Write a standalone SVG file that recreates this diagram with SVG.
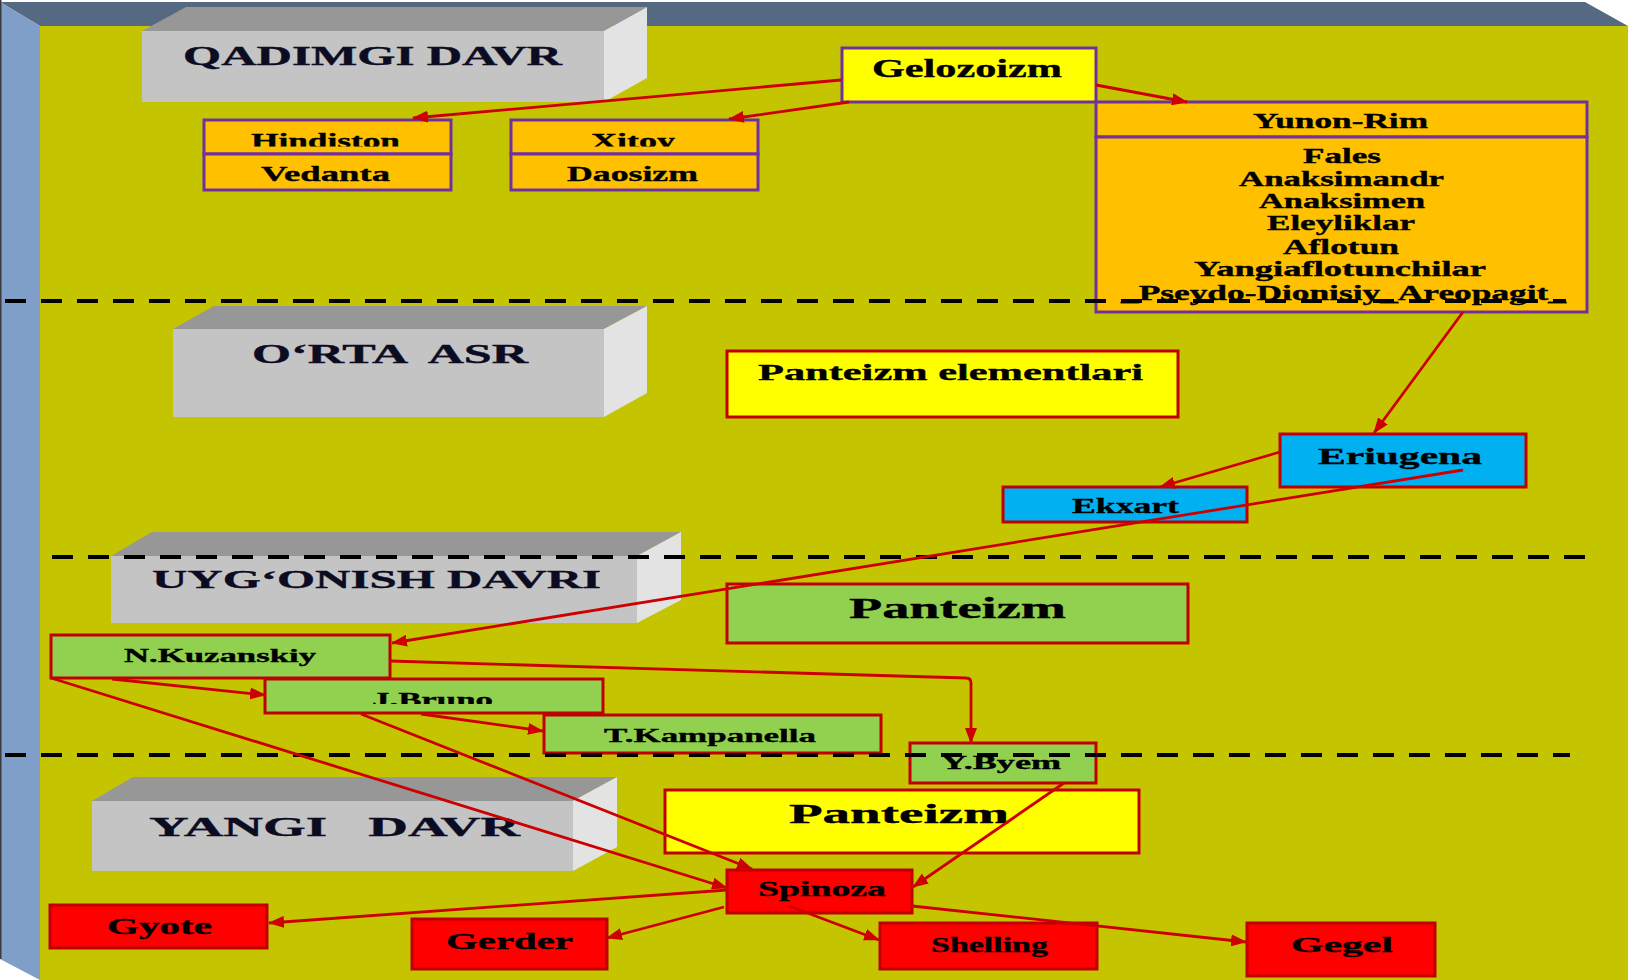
<svg xmlns="http://www.w3.org/2000/svg" width="1633" height="980" viewBox="0 0 1633 980">
<style>
text{font-family:"Liberation Serif","Times New Roman",serif;font-weight:bold;fill:#000;stroke:#000;stroke-width:0.35;text-anchor:middle}
.era{fill:#0b0b22;stroke:#0b0b22}
.ff{fill:#C4C4C4}.ft{fill:#979797}.fr{fill:#E3E3E3}
.po{fill:#FFC000;stroke:#7030A0;stroke-width:3}
.py{fill:#FFFF00;stroke:#7030A0;stroke-width:3}
.ry{fill:#FFFF00;stroke:#C00000;stroke-width:3}
.rb{fill:#00B0F0;stroke:#C00000;stroke-width:3}
.rg{fill:#92D050;stroke:#C00000;stroke-width:3}
.rr{fill:#FF0000;stroke:#C00000;stroke-width:3}
.c{fill:none;stroke:#CC0000;stroke-width:2.8;marker-end:url(#ah)}
.d{stroke:#000;stroke-width:4;stroke-dasharray:21 15}
</style>
<defs>
<marker id="ah" markerUnits="userSpaceOnUse" markerWidth="16" markerHeight="12" refX="15" refY="6" orient="auto">
<path d="M0,0 L16,6 L0,12 z" fill="#CC0000"/>
</marker>
<clipPath id="clipHead"><rect x="200" y="118" width="560" height="28.5"/></clipPath>
<clipPath id="clipBruno"><rect x="265" y="679" width="338" height="25"/></clipPath>
</defs>

<g id="frame">
<rect x="0" y="0" width="1633" height="980" fill="#FFFFFF"/>
<polygon points="0,2 1585,2 1628,26 40,26" fill="#556983"/>
<polygon points="0,2 40,26 40,980 0,959" fill="#7F9FC9"/>
<rect x="0" y="0" width="1.5" height="959" fill="#3a3a3a"/>
<rect x="40" y="26" width="1588" height="954" fill="#C5C400"/>
</g>

<g id="era-qadimgi">
<polygon class="ft" points="142,31 186,7 647,7 604,31"/>
<polygon class="fr" points="604,31 647,7 647,78 604,102"/>
<rect class="ff" x="142" y="31" width="462" height="71"/>
<text class="era" x="372.5" y="65" font-size="27" textLength="379" lengthAdjust="spacingAndGlyphs">QADIMGI DAVR</text>
</g>
<g id="era-orta">
<polygon class="ft" points="173,329 214,306 647,306 604,329"/>
<polygon class="fr" points="604,329 647,306 647,393 604,417"/>
<rect class="ff" x="173" y="329" width="431" height="88"/>
<text class="era" x="390" y="363" font-size="27" textLength="276" lengthAdjust="spacingAndGlyphs" xml:space="preserve">O‘RTA  ASR</text>
</g>
<g id="era-uygonish">
<polygon class="ft" points="111,556 152,532 681,532 637,556"/>
<polygon class="fr" points="637,556 681,532 681,600 637,623"/>
<rect class="ff" x="111" y="556" width="526" height="67"/>
<text class="era" x="376.5" y="588" font-size="26" textLength="449" lengthAdjust="spacingAndGlyphs">UYG‘ONISH DAVRI</text>
</g>
<g id="era-yangi">
<polygon class="ft" points="92,801 133,777 617,777 573,801"/>
<polygon class="fr" points="573,801 617,777 617,847 573,871"/>
<rect class="ff" x="92" y="801" width="481" height="70"/>
<text class="era" x="334.5" y="836" font-size="28" textLength="371" lengthAdjust="spacingAndGlyphs" xml:space="preserve">YANGI   DAVR</text>
</g>

<g id="gelozoizm">
<rect class="py" x="842" y="48" width="254" height="54"/>
<text x="967" y="77" font-size="25" textLength="190" lengthAdjust="spacingAndGlyphs">Gelozoizm</text>
</g>
<g id="hindiston">
<rect class="po" x="204" y="120" width="247" height="34"/>
<rect class="po" x="204" y="154" width="247" height="36"/>
<text x="325.5" y="147.5" font-size="21" textLength="149" lengthAdjust="spacingAndGlyphs" clip-path="url(#clipHead)">Hindiston</text>
<text x="325.5" y="181" font-size="21" textLength="129" lengthAdjust="spacingAndGlyphs">Vedanta</text>
</g>
<g id="xitoy">
<rect class="po" x="511" y="120" width="247" height="34"/>
<rect class="po" x="511" y="154" width="247" height="36"/>
<text x="633" y="147.5" font-size="21" textLength="84" lengthAdjust="spacingAndGlyphs" clip-path="url(#clipHead)">Xitoy</text>
<text x="632.5" y="181" font-size="21" textLength="131" lengthAdjust="spacingAndGlyphs">Daosizm</text>
</g>
<g id="yunon-rim">
<rect class="po" x="1096" y="102" width="491" height="35"/>
<rect class="po" x="1096" y="137" width="491" height="175"/>
<text x="1340.5" y="128" font-size="20" textLength="175" lengthAdjust="spacingAndGlyphs">Yunon-Rim</text>
<text x="1342" y="163" font-size="20" textLength="78" lengthAdjust="spacingAndGlyphs">Fales</text>
<text x="1341.5" y="186" font-size="20" textLength="205" lengthAdjust="spacingAndGlyphs">Anaksimandr</text>
<text x="1342" y="208" font-size="20" textLength="166" lengthAdjust="spacingAndGlyphs">Anaksimen</text>
<text x="1341" y="230" font-size="20" textLength="148" lengthAdjust="spacingAndGlyphs">Eleyliklar</text>
<text x="1341" y="254" font-size="20" textLength="116" lengthAdjust="spacingAndGlyphs">Aflotun</text>
<text x="1340" y="276" font-size="20" textLength="292" lengthAdjust="spacingAndGlyphs">Yangiaflotunchilar</text>
<text x="1343.5" y="300" font-size="20" textLength="445" lengthAdjust="spacingAndGlyphs">_Pseydo-Dionisiy_Areopagit_</text>
</g>
<g id="panteizm-elementlari">
<rect class="ry" x="727" y="351" width="451" height="66"/>
<text x="950.5" y="380" font-size="23" textLength="385" lengthAdjust="spacingAndGlyphs">Panteizm elementlari</text>
</g>
<g id="eriugena">
<rect class="rb" x="1280" y="434" width="246" height="53"/>
<text x="1400" y="464" font-size="23" textLength="164" lengthAdjust="spacingAndGlyphs">Eriugena</text>
</g>
<g id="ekxart">
<rect class="rb" x="1003" y="487" width="244" height="35"/>
<text x="1125.5" y="513" font-size="21" textLength="107" lengthAdjust="spacingAndGlyphs">Ekxart</text>
</g>
<g id="panteizm-green">
<rect class="rg" x="727" y="584" width="461" height="59"/>
<text x="957.5" y="618" font-size="29" textLength="217" lengthAdjust="spacingAndGlyphs">Panteizm</text>
</g>
<g id="kuzanskiy">
<rect class="rg" x="51" y="635" width="339" height="43"/>
<text x="220" y="662" font-size="19" textLength="192" lengthAdjust="spacingAndGlyphs">N.Kuzanskiy</text>
</g>
<g id="bruno">
<rect class="rg" x="265" y="679" width="338" height="34"/>
<text x="432.5" y="706" font-size="19" textLength="121" lengthAdjust="spacingAndGlyphs" clip-path="url(#clipBruno)">J.Bruno</text>
</g>
<g id="kampanella">
<rect class="rg" x="544" y="715" width="337" height="38"/>
<text x="710" y="742" font-size="19" textLength="212" lengthAdjust="spacingAndGlyphs">T.Kampanella</text>
</g>
<g id="byem">
<rect class="rg" x="910" y="743" width="186" height="40"/>
<text x="1001" y="769" font-size="18" textLength="120" lengthAdjust="spacingAndGlyphs">Y.Byem</text>
</g>
<g id="panteizm-yellow">
<rect class="ry" x="665" y="790" width="474" height="63"/>
<text x="899" y="823" font-size="28" textLength="220" lengthAdjust="spacingAndGlyphs">Panteizm</text>
</g>
<g id="spinoza">
<rect class="rr" x="727" y="870" width="185" height="43"/>
<text x="822" y="896" font-size="21" textLength="128" lengthAdjust="spacingAndGlyphs">Spinoza</text>
</g>
<g id="gyote">
<rect class="rr" x="50" y="905" width="217" height="43"/>
<text x="159.5" y="934" font-size="23" textLength="105" lengthAdjust="spacingAndGlyphs">Gyote</text>
</g>
<g id="gerder">
<rect class="rr" x="412" y="919" width="195" height="50"/>
<text x="509.5" y="949" font-size="23" textLength="127" lengthAdjust="spacingAndGlyphs">Gerder</text>
</g>
<g id="shelling">
<rect class="rr" x="880" y="923" width="217" height="46"/>
<text x="989.5" y="952" font-size="21" textLength="117" lengthAdjust="spacingAndGlyphs">Shelling</text>
</g>
<g id="gegel">
<rect class="rr" x="1247" y="923" width="188" height="53"/>
<text x="1342" y="952" font-size="22" textLength="102" lengthAdjust="spacingAndGlyphs">Gegel</text>
</g>

<g id="dividers">
<line class="d" x1="5" y1="301" x2="1566" y2="301"/>
<line class="d" x1="52" y1="557" x2="1594" y2="557"/>
<line class="d" x1="5" y1="755" x2="1570" y2="755"/>
</g>

<g id="connectors">
<line class="c" x1="841" y1="80" x2="413" y2="118"/>
<line class="c" x1="849" y1="102" x2="729" y2="119"/>
<line class="c" x1="1096" y1="85" x2="1187" y2="102"/>
<line class="c" x1="1463" y1="312" x2="1374" y2="433"/>
<line class="c" x1="1280" y1="452" x2="1160" y2="487"/>
<line class="c" x1="1463" y1="470" x2="392" y2="643"/>
<path class="c" d="M390,661 L966,678 Q971,678 971,683 L971,743"/>
<line class="c" x1="112" y1="679" x2="265" y2="695"/>
<line class="c" x1="51" y1="678" x2="727" y2="888"/>
<line class="c" x1="421" y1="714" x2="543" y2="731"/>
<line class="c" x1="361" y1="714" x2="752" y2="869"/>
<line class="c" x1="1064" y1="783" x2="913" y2="887"/>
<line class="c" x1="727" y1="890" x2="269" y2="923"/>
<line class="c" x1="724" y1="907" x2="607" y2="938"/>
<line class="c" x1="789" y1="906" x2="879" y2="940"/>
<line class="c" x1="912" y1="906" x2="1246" y2="942"/>
</g>
</svg>
